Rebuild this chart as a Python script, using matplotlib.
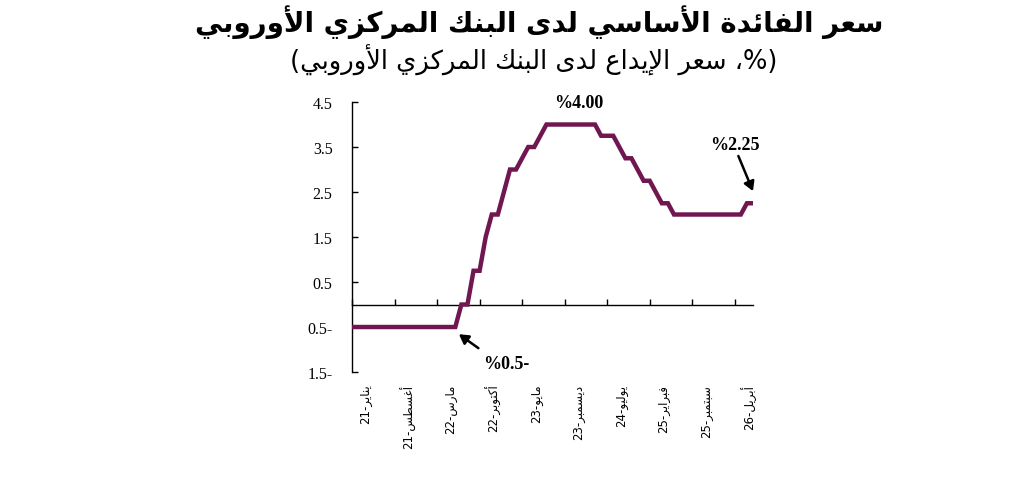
import numpy as np
import matplotlib
matplotlib.use("Agg")
import matplotlib.pyplot as plt
import matplotlib.transforms as mtransforms

# ECB deposit rate, monthly, Jan 2021 .. Jul 2026
rates = ([-0.5] * 18 +
         [0.0, 0.0, 0.75, 0.75, 1.5, 2.0, 2.0, 2.5, 3.0, 3.0, 3.25, 3.5, 3.5, 3.75, 4.0] +
         [4.0] * 8 +
         [3.75, 3.75, 3.75, 3.5, 3.25, 3.25, 3.0, 2.75, 2.75, 2.5, 2.25, 2.25, 2.0] +
         [2.0] * 11 +
         [2.25, 2.25])

tick_labels = ["يناير-21", "أغسطس-21", "مارس-22", "أكتوبر-22", "مايو-23",
               "ديسمبر-23", "يوليو-24", "فبراير-25", "سبتمبر-25", "أبريل-26"]
tick_step = 7

y_ticks = [4.5, 3.5, 2.5, 1.5, 0.5, -0.5, -1.5]
y_tick_labels = ["4.5", "3.5", "2.5", "1.5", "0.5", "0.5-", "1.5-"]

title = "سعر الفائدة الأساسي لدى البنك المركزي الأوروبي"
subtitle = "(%، سعر الإيداع لدى البنك المركزي الأوروبي)"

LINE_COLOR = "#701650"

# --- tiny arabic shaper + rtl reorder (matplotlib 3.10 does neither) ---
# forms: isolated, final, initial, medial
FORMS = {
    'ء': (0xFE80, None, None, None),
    'آ': (0xFE81, 0xFE82, None, None),
    'أ': (0xFE83, 0xFE84, None, None),
    'ؤ': (0xFE85, 0xFE86, None, None),
    'إ': (0xFE87, 0xFE88, None, None),
    'ئ': (0xFE89, 0xFE8A, 0xFE8B, 0xFE8C),
    'ا': (0xFE8D, 0xFE8E, None, None),
    'ب': (0xFE8F, 0xFE90, 0xFE91, 0xFE92),
    'ة': (0xFE93, 0xFE94, None, None),
    'ت': (0xFE95, 0xFE96, 0xFE97, 0xFE98),
    'ث': (0xFE99, 0xFE9A, 0xFE9B, 0xFE9C),
    'ج': (0xFE9D, 0xFE9E, 0xFE9F, 0xFEA0),
    'ح': (0xFEA1, 0xFEA2, 0xFEA3, 0xFEA4),
    'خ': (0xFEA5, 0xFEA6, 0xFEA7, 0xFEA8),
    'د': (0xFEA9, 0xFEAA, None, None),
    'ذ': (0xFEAB, 0xFEAC, None, None),
    'ر': (0xFEAD, 0xFEAE, None, None),
    'ز': (0xFEAF, 0xFEB0, None, None),
    'س': (0xFEB1, 0xFEB2, 0xFEB3, 0xFEB4),
    'ش': (0xFEB5, 0xFEB6, 0xFEB7, 0xFEB8),
    'ص': (0xFEB9, 0xFEBA, 0xFEBB, 0xFEBC),
    'ض': (0xFEBD, 0xFEBE, 0xFEBF, 0xFEC0),
    'ط': (0xFEC1, 0xFEC2, 0xFEC3, 0xFEC4),
    'ظ': (0xFEC5, 0xFEC6, 0xFEC7, 0xFEC8),
    'ع': (0xFEC9, 0xFECA, 0xFECB, 0xFECC),
    'غ': (0xFECD, 0xFECE, 0xFECF, 0xFED0),
    'ف': (0xFED1, 0xFED2, 0xFED3, 0xFED4),
    'ق': (0xFED5, 0xFED6, 0xFED7, 0xFED8),
    'ك': (0xFED9, 0xFEDA, 0xFEDB, 0xFEDC),
    'ل': (0xFEDD, 0xFEDE, 0xFEDF, 0xFEE0),
    'م': (0xFEE1, 0xFEE2, 0xFEE3, 0xFEE4),
    'ن': (0xFEE5, 0xFEE6, 0xFEE7, 0xFEE8),
    'ه': (0xFEE9, 0xFEEA, 0xFEEB, 0xFEEC),
    'و': (0xFEED, 0xFEEE, None, None),
    'ى': (0xFEEF, 0xFEF0, None, None),
    'ي': (0xFEF1, 0xFEF2, 0xFEF3, 0xFEF4),
}
LAM_ALEF = {'آ': (0xFEF5, 0xFEF6), 'أ': (0xFEF7, 0xFEF8),
            'إ': (0xFEF9, 0xFEFA), 'ا': (0xFEFB, 0xFEFC)}
MIRROR = {'(': ')', ')': '('}


def joins_next(ch):
    return ch in FORMS and FORMS[ch][2] is not None


def shape_run(run):
    out = []
    i = 0
    while i < len(run):
        ch = run[i]
        prev = run[i - 1] if i > 0 else None
        prev_j = prev is not None and joins_next(prev)
        if ch == 'ل' and i + 1 < len(run) and run[i + 1] in LAM_ALEF:
            iso, fin = LAM_ALEF[run[i + 1]]
            out.append(chr(fin if prev_j else iso))
            i += 2
            continue
        nxt = run[i + 1] if i + 1 < len(run) else None
        next_j = joins_next(ch) and nxt in FORMS
        iso, fin, ini, med = FORMS[ch]
        if prev_j and next_j:
            code = med
        elif prev_j:
            code = fin
        elif next_j:
            code = ini
        else:
            code = iso
        out.append(chr(code))
        i += 1
    return "".join(reversed(out))


def ar(text):
    # split into arabic runs, digit runs and single other chars,
    # then lay them out right to left
    tokens = []
    i = 0
    while i < len(text):
        ch = text[i]
        j = i + 1
        if ch in FORMS:
            while j < len(text) and text[j] in FORMS:
                j += 1
            tokens.append(shape_run(text[i:j]))
        elif ch.isdigit():
            while j < len(text) and (text[j].isdigit() or text[j] == '.'):
                j += 1
            tokens.append(text[i:j])
        else:
            tokens.append(MIRROR.get(ch, ch))
        i = j
    return "".join(reversed(tokens))


def main():
    fig = plt.figure(figsize=(10.36, 4.85), dpi=100)
    ax = fig.add_axes([0.3398, 0.2309, 0.387, 0.5567])

    x = np.arange(len(rates))
    ax.plot(x, rates, color=LINE_COLOR, lw=3.2, solid_joinstyle='miter', zorder=3)

    ax.set_xlim(0, len(rates) - 1)
    ax.set_ylim(-1.5, 4.5)

    for s in ["top", "right"]:
        ax.spines[s].set_visible(False)
    ax.spines["bottom"].set_position(("data", 0))
    ax.spines["bottom"].set_linewidth(1.0)
    ax.spines["left"].set_linewidth(1.0)

    ax.set_yticks(y_ticks)
    ax.set_yticklabels(y_tick_labels, family="Liberation Serif", fontsize=11.5)
    ax.tick_params(axis="y", direction="in", length=4, width=1, pad=14)

    ax.set_xticks(np.arange(0, len(rates), tick_step))
    ax.set_xticklabels([ar(t) for t in tick_labels], rotation=90,
                       family="DejaVu Sans", fontsize=8.5, va="top", ha="center")
    ax.tick_params(axis="x", direction="in", length=4, width=1, pad=57)
    offset = mtransforms.ScaledTranslation(14 / 100, 0, fig.dpi_scale_trans)
    for lab in ax.get_xticklabels():
        lab.set_transform(lab.get_transform() + offset)

    arrow = dict(arrowstyle="-|>,head_length=0.55,head_width=0.32",
                 color="black", lw=1.8, shrinkA=0, shrinkB=0)
    ax.text(37.3, 4.5, "%4.00", family="Liberation Serif", fontweight="bold",
            fontsize=13, ha="center", va="center")
    ax.annotate("", xy=(66, 2.52), xytext=(63.6, 3.3), arrowprops=arrow)
    ax.text(63.0, 3.56, "%2.25", family="Liberation Serif", fontweight="bold",
            fontsize=13, ha="center", va="center")
    ax.annotate("", xy=(17.6, -0.66), xytext=(20.8, -0.97), arrowprops=arrow)
    ax.text(25.4, -1.31, "%0.5-", family="Liberation Serif", fontweight="bold",
            fontsize=13, ha="center", va="center")

    fig.text(0.52, 0.955, ar(title), family="DejaVu Sans", fontweight="bold",
             fontsize=20, ha="center", va="center")
    fig.text(0.515, 0.876, ar(subtitle), family="DejaVu Sans",
             fontsize=18.5, ha="center", va="center")

    fig.savefig("out.png", dpi=100, facecolor="white")


if __name__ == "__main__":
    main()
